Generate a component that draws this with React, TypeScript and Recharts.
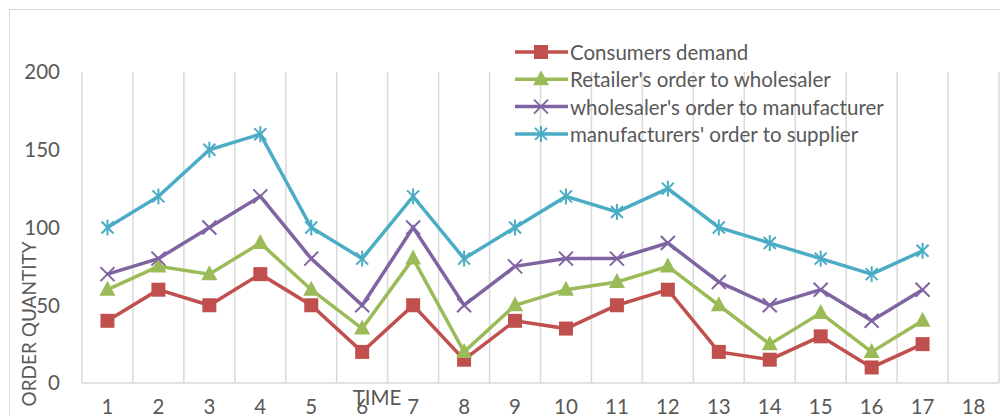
import React from "react";
import { LineChart, Line, XAxis, YAxis, CartesianGrid, Legend } from "recharts";

// time periods on the x axis (18 has no observations)
const periods = ["1", "2", "3", "4", "5", "6", "7", "8", "9", "10", "11", "12", "13", "14", "15", "16", "17", "18"];

const consumersDemand = [40, 60, 50, 70, 50, 20, 50, 15, 40, 35, 50, 60, 20, 15, 30, 10, 25];
const retailerOrder = [60, 75, 70, 90, 60, 35, 80, 20, 50, 60, 65, 75, 50, 25, 45, 20, 40];
const wholesalerOrder = [70, 80, 100, 120, 80, 50, 100, 50, 75, 80, 80, 90, 65, 50, 60, 40, 60];
const manufacturerOrder = [100, 120, 150, 160, 100, 80, 120, 80, 100, 120, 110, 125, 100, 90, 80, 70, 85];

const yTicks = [0, 50, 100, 150, 200];

const series = [
  { key: "demand", name: "Consumers demand", color: "#C0504D", marker: "square" },
  { key: "retailer", name: "Retailer's order to wholesaler", color: "#9BBB59", marker: "triangle" },
  { key: "wholesaler", name: "wholesaler's order to manufacturer", color: "#8064A2", marker: "cross" },
  { key: "manufacturer", name: "manufacturers' order to supplier", color: "#4BACC6", marker: "star" },
];

const data = periods.map((t, i) => ({
  t,
  demand: consumersDemand[i] ?? null,
  retailer: retailerOrder[i] ?? null,
  wholesaler: wholesalerOrder[i] ?? null,
  manufacturer: manufacturerOrder[i] ?? null,
}));

const TEXT = "#595959";
const GRID = "#D9D9D9";
const FONT = "Lato, 'Liberation Sans', sans-serif";
const FS = 20.5;

const Marker = ({ kind, cx, cy, color }: any) => {
  if (cx == null || cy == null || isNaN(cx) || isNaN(cy)) return null;
  if (kind === "square") {
    return <rect x={cx - 7} y={cy - 7} width={14} height={14} fill={color} />;
  }
  if (kind === "triangle") {
    return <polygon points={`${cx},${cy - 9} ${cx + 8},${cy + 6} ${cx - 8},${cy + 6}`} fill={color} />;
  }
  if (kind === "cross") {
    return (
      <g stroke={color} strokeWidth={2}>
        <line x1={cx - 7} y1={cy - 7} x2={cx + 7} y2={cy + 7} />
        <line x1={cx - 7} y1={cy + 7} x2={cx + 7} y2={cy - 7} />
      </g>
    );
  }
  return (
    <g stroke={color} strokeWidth={2}>
      <line x1={cx - 6} y1={cy - 6} x2={cx + 6} y2={cy + 6} />
      <line x1={cx - 6} y1={cy + 6} x2={cx + 6} y2={cy - 6} />
      <line x1={cx} y1={cy - 8} x2={cx} y2={cy + 8} />
    </g>
  );
};

const makeDot = (kind: string, color: string) => (props: any) => (
  <Marker key={`${kind}-${props.index}`} kind={kind} cx={props.cx} cy={props.cy} color={color} />
);

const LegendBox = () => (
  <svg width={420} height={120} style={{ overflow: "visible", display: "block" }}>
    {series.map((s, i) => {
      const y = 17 + i * 27.3;
      return (
        <g key={s.key}>
          <line x1={5} y1={y} x2={58} y2={y} stroke={s.color} strokeWidth={3.5} />
          <Marker kind={s.marker} cx={31} cy={y} color={s.color} />
          <text x={60} y={y} dominantBaseline="central" fill={TEXT} fontSize={FS} fontFamily={FONT}>
            {s.name}
          </text>
        </g>
      );
    })}
  </svg>
);

// vertical grid lines sit on category boundaries, not on the points
const boundaryLines = ({ offset }: any) =>
  periods.map((_, i) => offset.left + (i * offset.width) / periods.length).concat(offset.left + offset.width);

const App = () => {
  return (
    <div style={{ position: "relative", left: 1, top: 1, width: 998, height: 408, fontFamily: FONT }}>
      {/* outer frame */}
      <div
        style={{
          position: "absolute",
          left: 0,
          top: 0,
          width: 996,
          height: 406,
          border: `1px solid ${GRID}`,
        }}
      />
      <LineChart
        width={996}
        height={408}
        data={data}
        margin={{ top: 62, right: 7, left: 12, bottom: 5 }}
        style={{ position: "absolute", left: 1, top: 1, overflow: "visible" }}
      >
        <CartesianGrid
          horizontal={false}
          stroke={GRID}
          strokeWidth={1.5}
          verticalCoordinatesGenerator={boundaryLines}
        />
        <XAxis
          dataKey="t"
          scale="band"
          height={30}
          tickLine={false}
          tickSize={0}
          tickMargin={16}
          stroke={GRID}
          strokeWidth={1.5}
          tick={{ fill: TEXT, fontSize: FS }}
          interval={0}
          label={{
            content: ({ viewBox }: any) => (
              <text
                x={viewBox.x + 295}
                y={viewBox.y + 14}
                textAnchor="middle"
                dominantBaseline="central"
                fill={TEXT}
                fontSize={FS}
              >
                TIME
              </text>
            ),
          }}
        />
        <YAxis
          width={60}
          domain={[0, 200]}
          ticks={yTicks}
          axisLine={false}
          tickLine={false}
          tickSize={0}
          tickMargin={22}
          tick={{ fill: TEXT, fontSize: FS }}
          label={{
            content: ({ viewBox }: any) => {
              const x = viewBox.x + 6;
              const y = viewBox.y + 252;
              return (
                <text
                  x={x}
                  y={y}
                  transform={`rotate(-90, ${x}, ${y})`}
                  textAnchor="middle"
                  dominantBaseline="central"
                  fill={TEXT}
                  fontSize={19}
                >
                  ORDER QUANTITY
                </text>
              );
            },
          }}
        />
        <Legend
          content={<LegendBox />}
          layout="horizontal"
          align="center"
          verticalAlign="middle"
          wrapperStyle={{ position: "absolute", left: 500, top: 25, width: 420, height: 120 }}
        />
        {series.map((s) => (
          <Line
            key={s.key}
            dataKey={s.key}
            name={s.name}
            stroke={s.color}
            strokeWidth={3.5}
            dot={makeDot(s.marker, s.color)}
            activeDot={false}
            isAnimationActive={false}
          />
        ))}
      </LineChart>
    </div>
  );
};

export default App;
